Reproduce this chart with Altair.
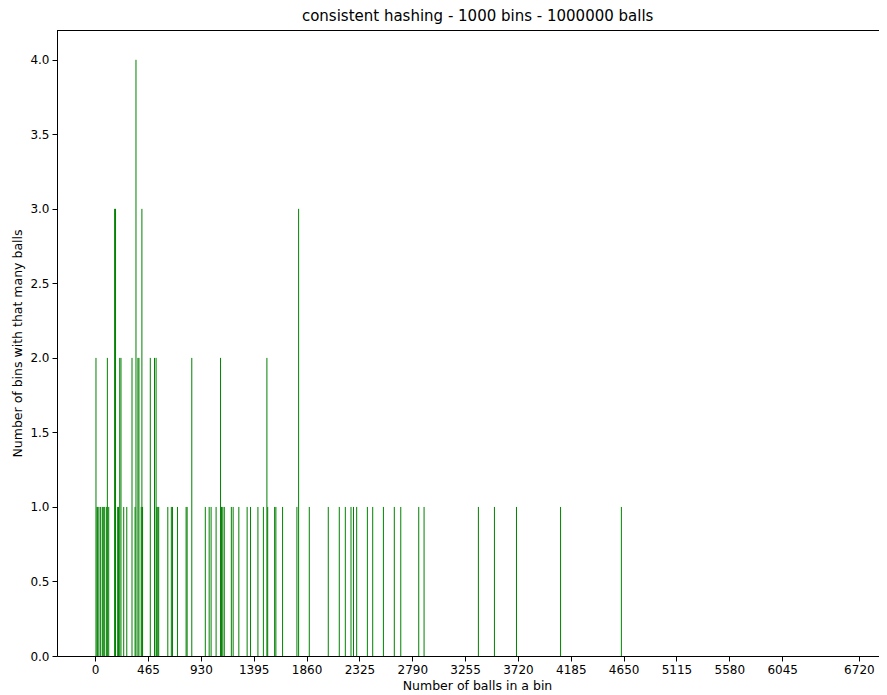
import altair as alt
import pandas as pd

# number of balls in a bin (x) and number of bins with that many balls (y)
balls = [7, 16, 22, 33, 48, 63, 75, 84, 101, 107, 119, 171, 179, 198, 205, 216, 227,
         251, 278, 324, 351, 359, 376, 385, 405, 411, 417, 485, 522, 536, 542, 551,
         559, 639, 670, 680, 724, 800, 809, 850, 969, 1003, 1020, 1064, 1103, 1112,
         1123, 1136, 1198, 1214, 1264, 1337, 1367, 1432, 1480, 1511, 1518, 1579, 1590,
         1649, 1775, 1790, 1884, 2051, 2148, 2201, 2251, 2273, 2301, 2395, 2442, 2536,
         2632, 2689, 2847, 2894, 3372, 3513, 3707, 4095, 4630]
bins = [2, 1, 1, 1, 1, 1, 1, 1, 1, 2, 1, 3, 3, 1, 1, 2, 2,
        1, 1, 2, 1, 4, 2, 2, 1, 3, 1, 2, 2, 2, 1, 1,
        1, 1, 1, 1, 1, 1, 1, 2, 1, 1, 1, 1, 2, 1,
        1, 1, 1, 1, 1, 1, 1, 1, 1, 2, 1, 1, 1,
        1, 1, 3, 1, 1, 1, 1, 1, 1, 1, 1, 1, 1,
        1, 1, 1, 1, 1, 1, 1, 1, 1]
x_ticks = [0, 465, 930, 1395, 1860, 2325, 2790, 3255, 3720, 4185, 4650, 5115, 5580, 6045, 6720]
y_ticks = [0.0, 0.5, 1.0, 1.5, 2.0, 2.5, 3.0, 3.5, 4.0]

df = pd.DataFrame({"balls": balls, "bins": bins})

FONT = "DejaVu Sans"
TICK_FS = 12
LABEL_FS = 12.5
W, H = 822, 626

bars = alt.Chart(df).mark_rule(color="#008000", strokeWidth=1).encode(
    x=alt.X("balls:Q",
            scale=alt.Scale(domain=[-336, 6897], nice=False, zero=False),
            axis=alt.Axis(values=x_ticks, format="d", title="Number of balls in a bin",
                          grid=False, tickSize=5, labelPadding=3, titlePadding=4,
                          titleX=420, titleAnchor="middle",
                          domainColor="black", tickColor="black", labelColor="black",
                          labelFont=FONT, labelFontSize=TICK_FS, titleFont=FONT,
                          titleFontSize=LABEL_FS, titleFontWeight="normal", titleColor="black")),
    y=alt.Y("bins:Q",
            scale=alt.Scale(domain=[0, 4.2], nice=False),
            axis=alt.Axis(values=y_ticks, format=".1f",
                          title="Number of bins with that many balls",
                          grid=False, tickSize=5, labelPadding=3, titlePadding=5,
                          domainColor="black", tickColor="black", labelColor="black",
                          labelFont=FONT, labelFontSize=TICK_FS, titleFont=FONT,
                          titleFontSize=LABEL_FS, titleFontWeight="normal", titleColor="black")),
    y2=alt.datum(0),
)

# top spine of the axes frame (the right spine lies beyond the cropped edge)
top_spine = alt.Chart(df).mark_rule(color="black", strokeWidth=1).encode(
    x=alt.value(0), x2=alt.value(W), y=alt.value(0.5)
)

chart = alt.layer(bars, top_spine).properties(
    width=W,
    height=H,
    title=alt.TitleParams("consistent hashing - 1000 bins - 1000000 balls",
                          font=FONT, fontSize=15, fontWeight="normal", color="black",
                          offset=6, anchor="start", dx=290),
    autosize=alt.AutoSizeParams(type="none"),
    padding={"left": 49, "top": 22, "right": 0, "bottom": 35},
).configure_view(strokeWidth=0).configure(background="white")

chart.save("out.html", embed_options={"renderer": "svg", "actions": False})
